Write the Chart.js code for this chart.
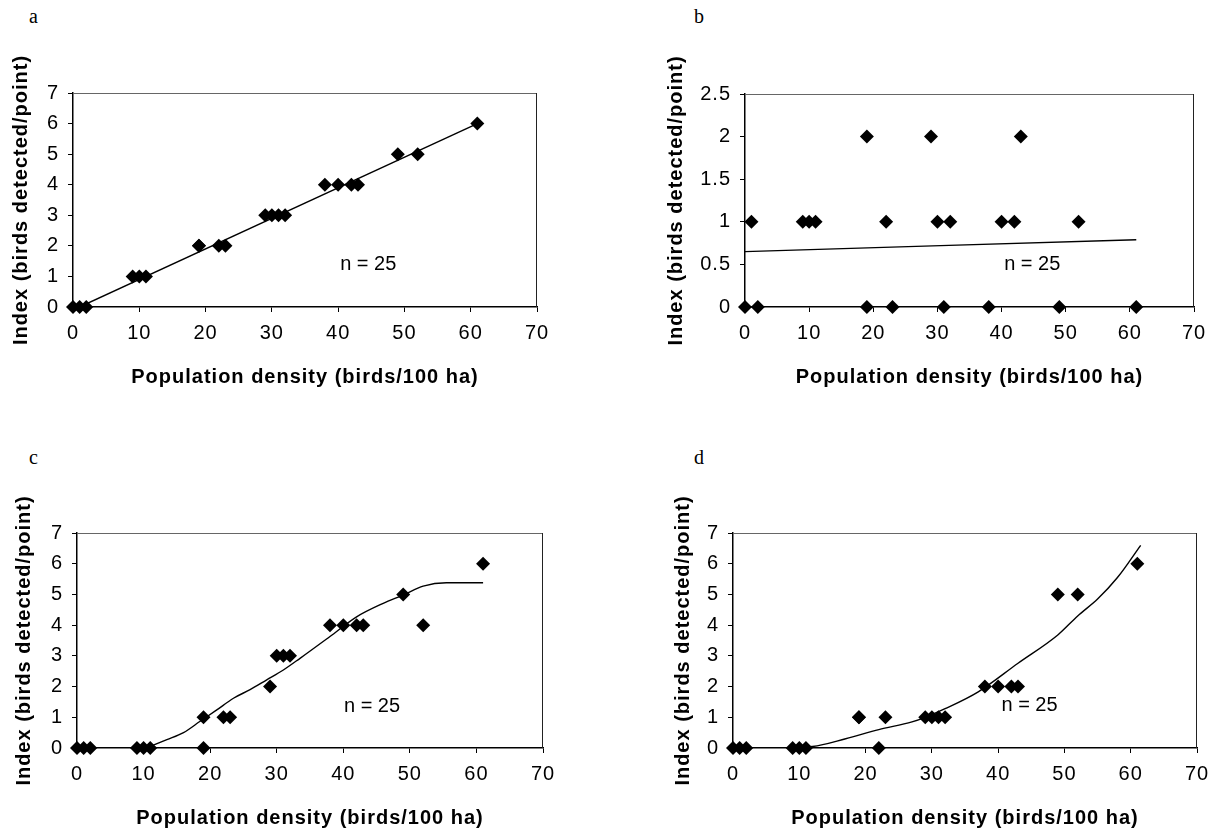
<!DOCTYPE html>
<html>
<head>
<meta charset="utf-8">
<script src="https://cdn.jsdelivr.net/npm/chart.js"></script>
<style>
  body { margin: 0; background: #fff; width: 1219px; height: 830px; position: relative; overflow: hidden; }
  canvas { position: absolute; }
  .tag { position: absolute; font-family: "Liberation Serif", "Times New Roman", serif; font-size: 20px; line-height: 20px; color: #000; }
</style>
</head>
<body>
<div class="tag" style="left:29px;top:6px">a</div>
<div class="tag" style="left:694px;top:6px">b</div>
<div class="tag" style="left:29px;top:447px">c</div>
<div class="tag" style="left:694px;top:447px">d</div>
<canvas id="panel-a" width="600" height="360" style="left:0;top:40px"></canvas>
<canvas id="panel-b" width="609" height="360" style="left:610px;top:40px"></canvas>
<canvas id="panel-c" width="600" height="360" style="left:0;top:470px"></canvas>
<canvas id="panel-d" width="609" height="360" style="left:610px;top:470px"></canvas>
<script>
// population density of each site (birds/100 ha)
const density = [0, 1, 2, 9, 10, 11, 19, 19, 22, 23, 29, 30, 31, 32, 38, 40, 42, 43, 49, 52, 61];

// index (birds detected/point) for the four detection scenarios
const indexA = [0, 0, 0, 1, 1, 1, 2, 2, 2, 2, 3, 3, 3, 3, 4, 4, 4, 4, 5, 5, 6];
const indexB = [0, 1, 0, 1, 1, 1, 2, 0, 1, 0, 2, 1, 0, 1, 0, 1, 1, 2, 0, 1, 0];
const indexC = [0, 0, 0, 0, 0, 0, 1, 0, 1, 1, 2, 3, 3, 3, 4, 4, 4, 4, 5, 4, 6];
const indexD = [0, 0, 0, 0, 0, 0, 1, 1, 0, 1, 1, 1, 1, 1, 2, 2, 2, 2, 5, 5, 6];

// trend lines
const trendAX = [1, 61];
const trendAY = [0, 6.0];
const trendBX = [0, 61];
const trendBY = [0.65, 0.79];
const trendCX = [11, 13.5, 16, 18.5, 21, 23.5, 26, 28.5, 31, 33.5, 38, 42, 46, 49, 52, 55.5, 61];
const trendCY = [0.05, 0.27, 0.5, 0.87, 1.24, 1.62, 1.9, 2.22, 2.54, 2.92, 3.63, 4.27, 4.71, 4.98, 5.27, 5.38, 5.38];
const trendDX = [5, 12, 17, 22, 27, 29, 32, 37, 43, 49, 52, 55, 58, 61.5];
const trendDY = [0, 0.05, 0.3, 0.6, 0.85, 1.0, 1.28, 1.83, 2.76, 3.68, 4.3, 4.85, 5.55, 6.6];

const sampleSize = "n = 25";
const xTitle = "Population density (birds/100 ha)";
const yTitle = "Index (birds detected/point)";

const family = "'Liberation Sans', Arial, sans-serif";

const toPoints = (xs, ys) => xs.map((x, i) => ({ x: x, y: ys[i] }));

// top and right edge of the plot box, spacing of the text, and the "n = 25" note
const framePlugin = {
  id: "frame",
  beforeDraw(chart) {
    chart.ctx.letterSpacing = "1px";
  },
  afterDatasetsDraw(chart, args, opts) {
    const { ctx, chartArea: a, scales } = chart;
    ctx.save();
    ctx.lineWidth = 1;
    ctx.strokeStyle = "#666";
    ctx.beginPath();
    ctx.moveTo(a.left, a.top + 0.5);
    ctx.lineTo(a.right, a.top + 0.5);
    ctx.stroke();
    ctx.strokeStyle = "#222";
    ctx.beginPath();
    ctx.moveTo(a.right - 0.5, a.top);
    ctx.lineTo(a.right - 0.5, a.bottom);
    ctx.stroke();
    ctx.letterSpacing = "0px";
    ctx.fillStyle = "#000";
    ctx.font = "20px " + family;
    ctx.textAlign = "left";
    ctx.textBaseline = "middle";
    ctx.fillText(sampleSize, scales.x.getPixelForValue(opts.noteX), scales.y.getPixelForValue(opts.noteY));
    ctx.restore();
  }
};

function makePanel(id, p) {
  const canvas = document.getElementById(id);
  const W = canvas.width;
  const H = canvas.height;
  return new Chart(canvas, {
    type: "scatter",
    plugins: [framePlugin],
    data: {
      datasets: [
        {
          data: toPoints(density, p.index),
          pointStyle: "rectRot",
          pointRadius: 7,
          backgroundColor: "#000",
          borderColor: "#000",
          borderWidth: 0,
          showLine: false,
          clip: false
        },
        {
          data: toPoints(p.tx, p.ty),
          showLine: true,
          pointRadius: 0,
          borderColor: "#000",
          borderWidth: 1.4,
          cubicInterpolationMode: "monotone",
          fill: false
        }
      ]
    },
    options: {
      responsive: false,
      animation: false,
      events: [],
      layout: { padding: { top: p.top, right: W - p.right, left: 0, bottom: 0 } },
      plugins: {
        legend: { display: false },
        tooltip: { enabled: false },
        frame: { noteX: p.noteX, noteY: p.noteY }
      },
      scales: {
        x: {
          type: "linear",
          min: 0,
          max: 70,
          afterFit: s => { s.height = H - p.bottom; },
          ticks: { stepSize: 10, color: "#000", font: { size: 20, family: family }, padding: 9, maxRotation: 0 },
          grid: { drawOnChartArea: false, drawTicks: true, tickLength: 5, color: "#000" },
          border: { color: "#000", width: 1.5 },
          title: {
            display: true,
            text: xTitle,
            color: "#000",
            font: { size: 20, weight: "bold", family: family },
            padding: { top: 0, bottom: Math.max(0, H - 12 - (p.bottom + 70)) }
          }
        },
        y: {
          min: 0,
          max: p.yMax,
          afterFit: s => { s.width = p.left; },
          ticks: {
            stepSize: p.yStep,
            color: "#000",
            font: { size: 20, family: family },
            padding: 9,
            callback: v => String(v)
          },
          grid: { drawOnChartArea: false, drawTicks: true, tickLength: 5, color: "#000" },
          border: { color: "#000", width: 1.5 },
          title: {
            display: true,
            text: yTitle,
            color: "#000",
            font: { size: 20, weight: "bold", family: family },
            padding: { top: p.yTitleX - 12, bottom: 0 }
          }
        }
      }
    }
  });
}

makePanel("panel-a", {
  index: indexA, tx: trendAX, ty: trendAY, yMax: 7, yStep: 1,
  left: 73, top: 53, right: 537, bottom: 267, yTitleX: 21, noteX: 40.3, noteY: 1.38
});
makePanel("panel-b", {
  index: indexB, tx: trendBX, ty: trendBY, yMax: 2.5, yStep: 0.5,
  left: 135, top: 54, right: 584, bottom: 267, yTitleX: 66, noteX: 40.4, noteY: 0.5
});
makePanel("panel-c", {
  index: indexC, tx: trendCX, ty: trendCY, yMax: 7, yStep: 1,
  left: 77, top: 63, right: 543, bottom: 278, yTitleX: 24, noteX: 40.1, noteY: 1.34
});
makePanel("panel-d", {
  index: indexD, tx: trendDX, ty: trendDY, yMax: 7, yStep: 1,
  left: 123, top: 63, right: 587, bottom: 278, yTitleX: 73, noteX: 40.5, noteY: 1.4
});
</script>
</body>
</html>
